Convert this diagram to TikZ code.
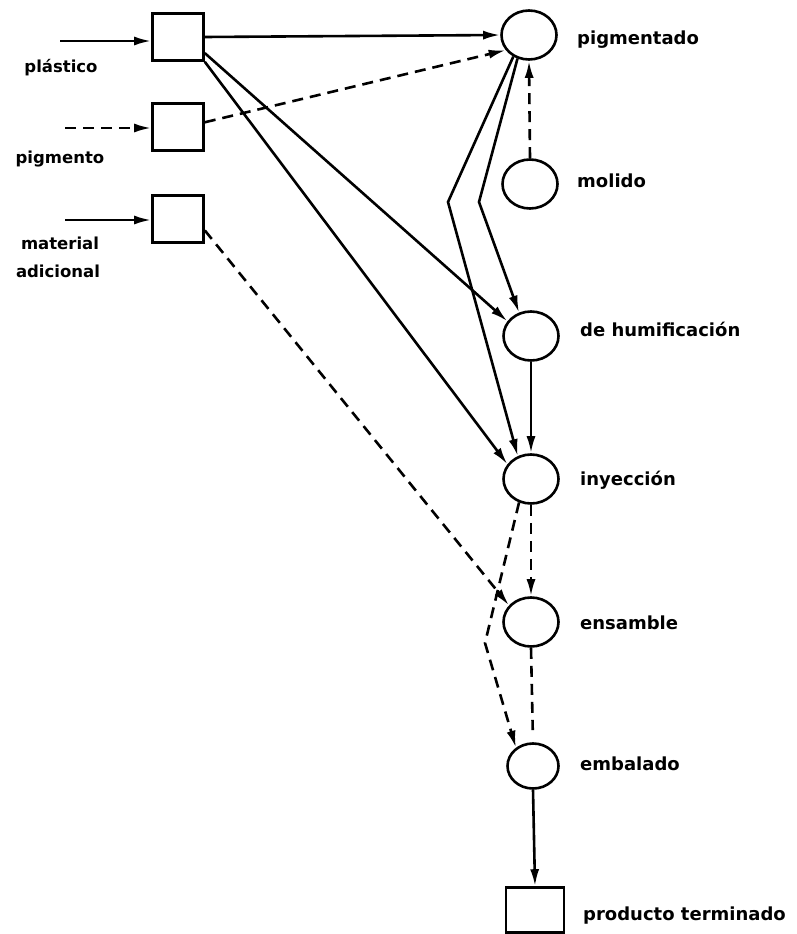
\documentclass[tikz,border=0pt]{standalone}
\usepackage{fontspec}
\setmainfont{DejaVu Sans}
\usetikzlibrary{arrows.meta,shapes.geometric}

\tikzset{
  stage/.style={ellipse,draw,line width=2.6pt,minimum width=55pt,minimum height=49pt,inner sep=0pt},
  stockbox/.style={rectangle,draw,line width=2.6pt,minimum width=51pt,minimum height=47pt,inner sep=0pt},
  flow/.style={line width=2.6pt,-{Latex[length=17pt,width=9pt]}},
  plainflow/.style={line width=2.6pt},
  dashflow/.style={dash pattern=on 11pt off 7pt},
  rlabel/.style={anchor=base west,font=\bfseries\fontsize{18}{20}\selectfont,inner sep=0pt},
  llabel/.style={anchor=base,font=\bfseries\fontsize{16.5}{18}\selectfont,inner sep=0pt}
}

\begin{document}
\begin{tikzpicture}[x=1pt,y=-1pt]
\useasboundingbox (0,0) rectangle (796,934);

% raw material stores
\node[stockbox] (p1) at (178,37)  {};
\node[stockbox] (p2) at (178,127) {};
\node[stockbox] (p3) at (178,219) {};

% process stages
\node[stage] (pg) at (529,35)  {};
\node[stage] (mo) at (530,184) {};
\node[stage] (dh) at (531,336) {};
\node[stage] (iy) at (531,479) {};
\node[stage] (en) at (531,622) {};
\node[stage,minimum width=51pt,minimum height=45pt] (em) at (533,766) {};
\node[stockbox,minimum width=58pt,minimum height=45pt] (pt) at (535,910) {};

% stage labels
\node[rlabel] (lpg) at (577,45)  {pigmentado};
\node[rlabel] (lmo) at (577,187) {molido};
\node[rlabel] (ldh) at (580,336) {de humificación};
\node[rlabel] (liy) at (580,485) {inyección};
\node[rlabel] (len) at (580,629) {ensamble};
\node[rlabel] (lem) at (580,770) {embalado};
\node[rlabel] (lpt) at (583,920) {producto terminado};

% input labels
\node[llabel] (l1) at (61,72)  {plástico};
\node[llabel] (l2) at (60,163) {pigmento};
\node[llabel] (l3) at (60,249) {material};
\node[llabel] (l4) at (58,277) {adicional};

% free ends of the incoming arrows
\coordinate (in1) at (60,41);
\coordinate (in2) at (65,128);
\coordinate (in3) at (65,220);

% bend points
\coordinate (b1) at (448,202);
\coordinate (b2) at (479,202);
\coordinate (b3) at (485,643);

% incoming material
\draw[flow] (in1) -- (in1 -| p1.west);
\draw[flow,dashflow] (in2) -- (in2 -| p2.west);
\draw[flow] (in3) -- (in3 -| p3.west);

% from the stores
\draw[flow] (p1.east) -- (pg.west);
\draw[flow,dashflow] (p2.10) -- (pg.-147);
\draw[flow] (p1.-31) -- (dh.148);
\draw[flow] (p1.south east) -- (iy.148);
\draw[flow,dashflow] (p3.-23) -- (en.143);

% between stages
\draw[flow,dashflow] (mo.north) -- (pg.south);
\draw[flow] (pg.-126) -- (b1) -- (iy.120);
\draw[flow] (pg.-116) -- (b2) -- (dh.117);
\draw[flow] (dh.south) -- (iy.north);
\draw[flow,dashflow] (iy.south) -- (en.north);
\draw[flow,dashflow] (iy.-117) -- (b3) -- (em.133);
\draw[plainflow,dashflow,shorten >=12pt] (en.south) -- (em.north);
\draw[flow] (em.south) -- (pt.north);
\end{tikzpicture}
\end{document}
